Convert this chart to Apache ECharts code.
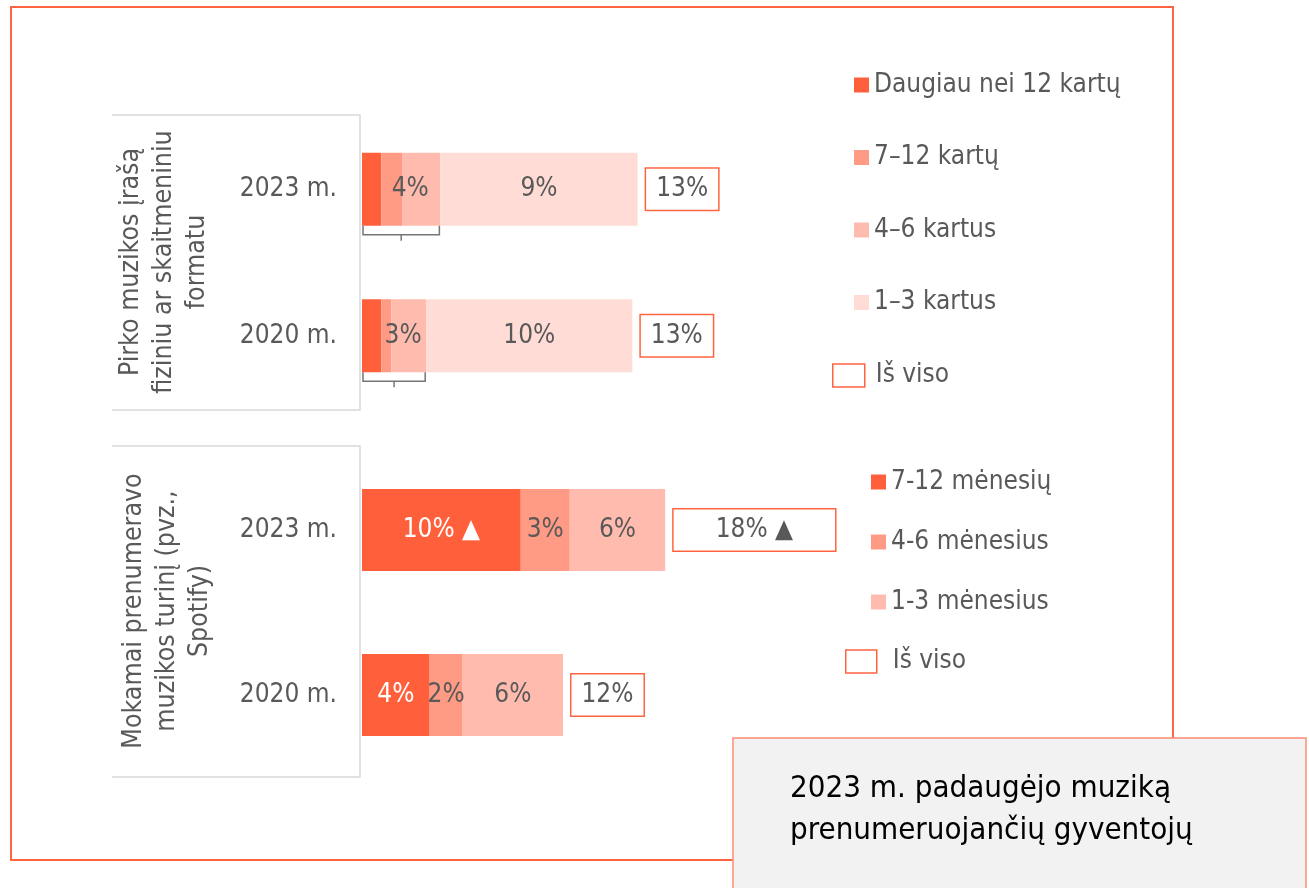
<!DOCTYPE html>
<html>
<head>
<meta charset="utf-8">
<script src="https://cdn.jsdelivr.net/npm/echarts@6/dist/echarts.min.js"></script>
<style>
  html, body { margin: 0; padding: 0; background: #fff; }
  #chart { width: 1309px; height: 888px; }
</style>
</head>
<body>
<div id="chart"></div>
<script>
const years = ['2023 m.', '2020 m.'];

// Pirko muzikos įrašą fiziniu ar skaitmeniniu formatu (%)
const buyNames = ['Daugiau nei 12 kartų', '7–12 kartų', '4–6 kartus', '1–3 kartus'];
const buyOver12 = [0.91, 0.91];
const buy7to12 = [0.98, 0.47];
const buy4to6 = [1.81, 1.65];
const buy1to3 = [9.31, 9.73];

// Mokamai prenumeravo muzikos turinį (%)
const subNames = ['7-12 mėnesių', '4-6 mėnesius', '1-3 mėnesius'];
const sub7to12 = [9.62, 4.10];
const sub4to6 = [2.97, 2.00];
const sub1to3 = [5.78, 6.08];
const subUp = [true, false]; // ▲ padidėjimas

const totalName = 'Iš viso';
const buyGroup = 'Pirko muzikos įrašą\nfiziniu ar skaitmeniniu\nformatu';
const subGroup = 'Mokamai prenumeravo\nmuzikos turinį (pvz.,\nSpotify)';
const note = '2023 m. padaugėjo muziką\nprenumeruojančių gyventojų';

const font = '"DejaVu Sans Condensed", "DejaVu Sans", sans-serif';
const fs = 26;
const grey = '#595959';
const colors = ['#FF5F3B', '#FF9B85', '#FFBCAE', '#FFDDD6'];
const orange = '#FF6440';

const buyData = [buyOver12, buy7to12, buy4to6, buy1to3];
const subData = [sub7to12, sub4to6, sub1to3];

function pct(v) {
  return Math.round(v) + '%';
}
function total(arrs, i) {
  let s = 0;
  for (let k in arrs) s += arrs[k][i];
  return s;
}

const chart = echarts.init(document.getElementById('chart'));

let series = [];

buyData.forEach((arr, k) => {
  series.push({
    name: buyNames[k],
    type: 'bar',
    stack: 'buy',
    xAxisIndex: 0,
    yAxisIndex: 0,
    barWidth: 73,
    silent: true,
    itemStyle: { color: colors[k] },
    label: {
      show: k === 3,
      position: 'inside',
      color: grey,
      fontSize: fs,
      fontFamily: font,
      formatter: p => pct(p.value)
    },
    data: arr
  });
});

// skliaustas po pirmaisiais trimis segmentais
series.push({
  type: 'custom',
  xAxisIndex: 0,
  yAxisIndex: 0,
  silent: true,
  z: 5,
  clip: false,
  data: years.map((y, i) => [buyOver12[i] + buy7to12[i] + buy4to6[i], i]),
  renderItem: (params, api) => {
    const a = api.coord([0, api.value(1)]);
    const b = api.coord([api.value(0), api.value(1)]);
    const y0 = a[1] + 36.5;
    const mid = (a[0] + b[0]) / 2;
    return {
      type: 'group',
      children: [
        {
          type: 'polyline',
          shape: { points: [[a[0] + 1, y0], [a[0] + 1, y0 + 9], [b[0] - 1, y0 + 9], [b[0] - 1, y0]] },
          style: { stroke: '#767676', lineWidth: 1.5, fill: null }
        },
        {
          type: 'line',
          shape: { x1: mid, y1: y0 + 9, x2: mid, y2: y0 + 15 },
          style: { stroke: '#767676', lineWidth: 1.5 }
        },
        {
          type: 'text',
          x: mid + 9,
          y: a[1],
          style: {
            text: pct(api.value(0)),
            fill: grey,
            fontSize: fs,
            fontFamily: font,
            align: 'center',
            verticalAlign: 'middle'
          }
        }
      ]
    };
  }
});

const totalLabel = {
  show: true,
  position: 'right',
  distance: 8,
  color: grey,
  fontSize: fs,
  fontFamily: font,
  lineHeight: 25,
  backgroundColor: '#fff',
  borderColor: orange,
  borderWidth: 1.5,
  padding: [8, 10]
};

series.push({
  name: totalName,
  type: 'scatter',
  xAxisIndex: 0,
  yAxisIndex: 0,
  symbolSize: 1,
  silent: true,
  itemStyle: { color: 'rgba(0,0,0,0)', opacity: 1 },
  label: Object.assign({}, totalLabel, { formatter: p => pct(p.value[0]) }),
  data: years.map((y, i) => [total(buyData, i), i])
});

subData.forEach((arr, k) => {
  series.push({
    name: subNames[k],
    type: 'bar',
    stack: 'sub',
    xAxisIndex: 1,
    yAxisIndex: 1,
    barWidth: 82,
    silent: true,
    itemStyle: { color: colors[k] },
    label: {
      show: true,
      position: 'inside',
      color: k === 0 ? '#fff' : grey,
      fontSize: fs,
      fontFamily: font,
      formatter: p => pct(p.value) + (k === 0 && subUp[p.dataIndex] ? ' ▲' : '')
    },
    data: arr
  });
});

series.push({
  name: totalName,
  type: 'scatter',
  xAxisIndex: 1,
  yAxisIndex: 1,
  symbolSize: 1,
  silent: true,
  itemStyle: { color: 'rgba(0,0,0,0)', opacity: 1 },
  label: Object.assign({}, totalLabel, {
    formatter: p => pct(p.value[0]) + (subUp[p.dataIndex] ? ' ▲' : '')
  }),
  data: years.map((y, i) => ({
    value: [total(subData, i), i],
    label: { padding: subUp[i] ? [8, 42] : [8, 10] }
  }))
});

const legendText = { color: grey, fontSize: fs, fontFamily: font, lineHeight: 26 };
const boxIcon = { color: '#fff', borderColor: orange, borderWidth: 1.5, opacity: 1 };

const option = {
  animation: false,
  backgroundColor: '#fff',
  grid: [
    { left: 362, top: 116, width: 500, height: 293 },
    { left: 362, top: 447.5, width: 500, height: 330 }
  ],
  xAxis: [
    { gridIndex: 0, type: 'value', min: 0, max: 23.6, show: false },
    { gridIndex: 1, type: 'value', min: 0, max: 30.3, show: false }
  ],
  yAxis: [0, 1].map(g => ({
    gridIndex: g,
    type: 'category',
    data: years,
    inverse: true,
    axisLine: { show: false },
    axisTick: { show: false },
    axisLabel: { margin: 25, fontSize: fs, color: grey, fontFamily: font }
  })),
  legend: [
    {
      data: buyNames.map(n => ({ name: n, icon: 'rect' })),
      orient: 'vertical', left: 854, top: 72, padding: 0,
      itemWidth: 15, itemHeight: 15, itemGap: 46.5,
      selectedMode: false, textStyle: legendText
    },
    {
      data: [{ name: totalName, icon: 'rect', itemStyle: boxIcon }],
      left: 832, top: 362.5, padding: 0,
      itemWidth: 32, itemHeight: 23,
      selectedMode: false, textStyle: Object.assign({ padding: [0, 0, 0, 6] }, legendText)
    },
    {
      data: subNames.map(n => ({ name: n, icon: 'rect' })),
      orient: 'vertical', left: 871, top: 469, padding: 0,
      itemWidth: 15, itemHeight: 15, itemGap: 34,
      selectedMode: false, textStyle: legendText
    },
    {
      data: [{ name: totalName, icon: 'rect', itemStyle: boxIcon }],
      left: 845, top: 648.5, padding: 0,
      itemWidth: 31, itemHeight: 23,
      selectedMode: false, textStyle: Object.assign({ padding: [0, 0, 0, 11] }, legendText)
    }
  ],
  graphic: [
    {
      type: 'rect', z: 0, silent: true,
      shape: { x: 11, y: 7, width: 1162, height: 853 },
      style: { fill: null, stroke: orange, lineWidth: 2 }
    },
    {
      type: 'polyline', silent: true,
      shape: { points: [[112, 115], [360, 115], [360, 410], [112, 410]] },
      style: { fill: null, stroke: '#d9d9d9', lineWidth: 1.5 }
    },
    {
      type: 'polyline', silent: true,
      shape: { points: [[112, 446], [360, 446], [360, 777], [112, 777]] },
      style: { fill: null, stroke: '#d9d9d9', lineWidth: 1.5 }
    },
    {
      type: 'text', silent: true, x: 164, y: 262, rotation: Math.PI / 2,
      style: { text: buyGroup, fill: grey, fontSize: 26.5, fontFamily: font, lineHeight: 33, align: 'center', verticalAlign: 'middle' }
    },
    {
      type: 'text', silent: true, x: 167, y: 611, rotation: Math.PI / 2,
      style: { text: subGroup, fill: grey, fontSize: 26.5, fontFamily: font, lineHeight: 33, align: 'center', verticalAlign: 'middle' }
    },
    {
      type: 'rect', z: 10, silent: true,
      shape: { x: 733, y: 738, width: 573, height: 160 },
      style: { fill: '#f2f2f2', stroke: '#FF8C73', lineWidth: 1.5 }
    },
    {
      type: 'text', z: 11, silent: true, x: 790, y: 810,
      style: {
        text: note, fill: '#000', fontSize: 31,
        fontFamily: font,
        lineHeight: 42, align: 'left', verticalAlign: 'middle'
      }
    }
  ],
  series: series
};

chart.setOption(option);
</script>
</body>
</html>
